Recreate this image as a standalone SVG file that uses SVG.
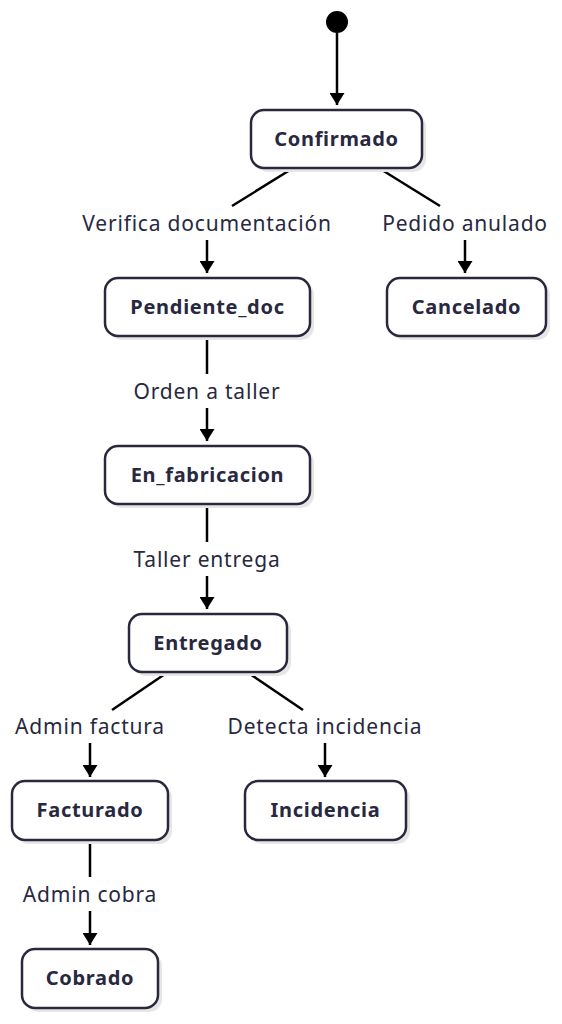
<svg xmlns="http://www.w3.org/2000/svg" width="562" height="1024" viewBox="0 0 562 1024">
<defs>
<style>
.node rect.sh{fill:#e6e6e6;stroke:none}
.node rect.bx{fill:#ffffff;stroke:#28283f;stroke-width:2.5}
.node text{font-family:"Noto Sans","Open Sans",sans-serif;font-weight:bold;font-size:20px;letter-spacing:0.7px;fill:#28283f;text-anchor:middle;dominant-baseline:central}
.lbl{font-family:"Noto Sans","Open Sans",sans-serif;font-size:21px;letter-spacing:0.8px;fill:#28283f;text-anchor:middle;dominant-baseline:central}
.edge{stroke:#000;stroke-width:2.5;fill:none}
</style>
<marker id="arr" viewBox="0 0 12 15" refX="12" refY="7.5" markerWidth="12" markerHeight="15" markerUnits="userSpaceOnUse" orient="auto">
<path d="M0,0 L12,7.5 L0,15 Z" fill="#000"/>
</marker>
</defs>
<rect width="562" height="1024" fill="#ffffff"/>

<g id="start"><circle cx="337" cy="22" r="11" fill="#000"/></g>

<g id="connectors">
<line class="edge" x1="337" y1="33" x2="337" y2="105" marker-end="url(#arr)"/>
<line class="edge" x1="290" y1="170" x2="232" y2="206"/>
<text class="lbl" x="207" y="223">Verifica documentación</text>
<line class="edge" x1="207" y1="240" x2="207" y2="273" marker-end="url(#arr)"/>
<line class="edge" x1="382" y1="170" x2="440" y2="206"/>
<text class="lbl" x="465" y="223">Pedido anulado</text>
<line class="edge" x1="465" y1="240" x2="465" y2="273" marker-end="url(#arr)"/>
<line class="edge" x1="207" y1="338" x2="207" y2="374"/>
<text class="lbl" x="207" y="391">Orden a taller</text>
<line class="edge" x1="207" y1="408" x2="207" y2="441" marker-end="url(#arr)"/>
<line class="edge" x1="207" y1="506" x2="207" y2="542"/>
<text class="lbl" x="207" y="559">Taller entrega</text>
<line class="edge" x1="207" y1="576" x2="207" y2="609" marker-end="url(#arr)"/>
<line class="edge" x1="165" y1="674" x2="112" y2="710"/>
<text class="lbl" x="90" y="726">Admin factura</text>
<line class="edge" x1="90" y1="743" x2="90" y2="777" marker-end="url(#arr)"/>
<line class="edge" x1="250" y1="674" x2="303" y2="710"/>
<text class="lbl" x="325" y="726">Detecta incidencia</text>
<line class="edge" x1="325" y1="743" x2="325" y2="777" marker-end="url(#arr)"/>
<line class="edge" x1="90" y1="842" x2="90" y2="877"/>
<text class="lbl" x="90" y="894">Admin cobra</text>
<line class="edge" x1="90" y1="911" x2="90" y2="945" marker-end="url(#arr)"/>
</g>

<g id="confirmado" class="node"><rect class="sh" x="255" y="114" width="171" height="58" rx="13"/><rect class="bx" x="251" y="110" width="171" height="58" rx="13"/><text x="336.5" y="138">Confirmado</text></g>
<g id="pendiente_doc" class="node"><rect class="sh" x="109" y="282" width="205" height="58" rx="13"/><rect class="bx" x="105" y="278" width="205" height="58" rx="13"/><text x="207.5" y="306">Pendiente_doc</text></g>
<g id="cancelado" class="node"><rect class="sh" x="391" y="282" width="159" height="58" rx="13"/><rect class="bx" x="387" y="278" width="159" height="58" rx="13"/><text x="466.5" y="306">Cancelado</text></g>
<g id="en_fabricacion" class="node"><rect class="sh" x="109" y="450" width="205" height="58" rx="13"/><rect class="bx" x="105" y="446" width="205" height="58" rx="13"/><text x="207.5" y="474">En_fabricacion</text></g>
<g id="entregado" class="node"><rect class="sh" x="133" y="618" width="158" height="58" rx="13"/><rect class="bx" x="129" y="614" width="158" height="58" rx="13"/><text x="208" y="642">Entregado</text></g>
<g id="facturado" class="node"><rect class="sh" x="16" y="785" width="156" height="59" rx="13"/><rect class="bx" x="12" y="781" width="156" height="59" rx="13"/><text x="90" y="809">Facturado</text></g>
<g id="incidencia" class="node"><rect class="sh" x="249" y="785" width="161" height="59" rx="13"/><rect class="bx" x="245" y="781" width="161" height="59" rx="13"/><text x="325.5" y="809">Incidencia</text></g>
<g id="cobrado" class="node"><rect class="sh" x="26" y="953" width="136" height="59" rx="13"/><rect class="bx" x="22" y="949" width="136" height="59" rx="13"/><text x="90" y="977">Cobrado</text></g>
</svg>
